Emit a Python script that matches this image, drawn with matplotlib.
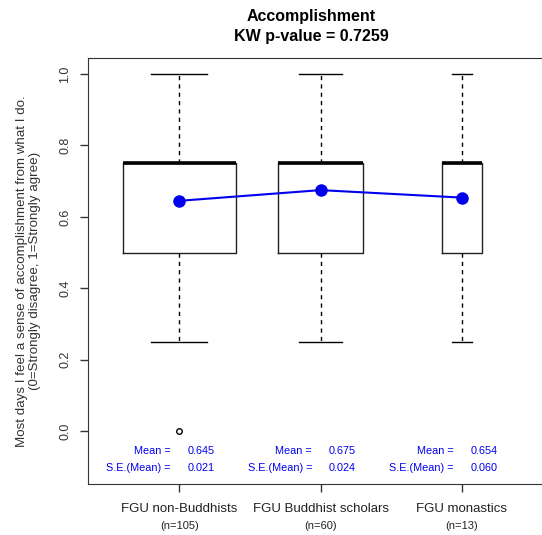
import matplotlib
matplotlib.use('Agg')
import matplotlib.pyplot as plt

plt.rcParams['font.family'] = ['Liberation Sans', 'DejaVu Sans']

groups = ['FGU non-Buddhists', 'FGU Buddhist scholars', 'FGU monastics']
n_obs = [105, 60, 13]
q1 = [0.5, 0.5, 0.5]
medians = [0.75, 0.75, 0.75]
q3 = [0.75, 0.75, 0.75]
whis_lo = [0.25, 0.25, 0.25]
whis_hi = [1.0, 1.0, 1.0]
outliers = [[0.0], [], []]
means = [0.645, 0.675, 0.654]
se_means = [0.021, 0.024, 0.060]
kw_p = 0.7259

fig = plt.figure(figsize=(5.42, 5.35), dpi=100)
ax = fig.add_axes([88 / 542, 51 / 535, 456 / 542, 426 / 535])

stats = []
for i in range(len(groups)):
    stats.append(dict(q1=q1[i], med=medians[i], q3=q3[i], whislo=whis_lo[i],
                      whishi=whis_hi[i], fliers=outliers[i]))

# largeur proportionnelle a sqrt(n), comme varwidth=TRUE
widths = [0.8 * (n / max(n_obs)) ** 0.5 for n in n_obs]
pos = [1, 2, 3]
ax.bxp(stats, positions=pos, widths=widths, showfliers=True,
       boxprops=dict(color='#222222', linewidth=1),
       medianprops=dict(color='black', linewidth=2.6, solid_capstyle='butt'),
       whiskerprops=dict(color='black', linewidth=1, linestyle=(0, (3, 3))),
       capprops=dict(color='black', linewidth=1),
       capwidths=[w * 0.5 for w in widths],
       flierprops=dict(marker='o', markersize=4, markerfacecolor='white',
                       markeredgecolor='black', markeredgewidth=1))

ax.plot(pos, means, color='#0000EE', linewidth=1.5, marker='o', markersize=8, zorder=5)

for i, p in enumerate(pos):
    ax.text(p - 0.06, -0.056, 'Mean =', color='#0000EE', fontsize=7.8, ha='right', va='center')
    ax.text(p + 0.06, -0.056, f'{means[i]:.3f}', color='#0000EE', fontsize=7.8, ha='left', va='center')
    ax.text(p - 0.06, -0.104, 'S.E.(Mean) =', color='#0000EE', fontsize=7.8, ha='right', va='center')
    ax.text(p + 0.06, -0.104, f'{se_means[i]:.3f}', color='#0000EE', fontsize=7.8, ha='left', va='center')

ax.set_xlim(0.355, 3.58)
ax.set_ylim(-0.148, 1.045)
ax.set_xticks(pos)
ax.set_xticklabels(groups, fontsize=9.5, color='#222222')
for i, p in enumerate(pos):
    ax.text(p, -0.148 - 0.118, f'(n={n_obs[i]})', fontsize=8, ha='center', va='center', color='#222222')
ax.set_yticks([0, 0.2, 0.4, 0.6, 0.8, 1.0])
ax.set_yticklabels(['0.0', '0.2', '0.4', '0.6', '0.8', '1.0'], rotation=90, va='center', fontsize=9, color='#333333')
ax.tick_params(axis='both', length=6, width=1, color='#333333')
ax.tick_params(axis='x', pad=8)
ax.tick_params(axis='y', pad=6)
for s in ['left', 'top', 'bottom']:
    ax.spines[s].set_color('#333333')
ax.spines['right'].set_visible(False)

ax.set_ylabel('Most days I feel a sense of accomplishment from what I do.\n(0=Strongly disagree, 1=Strongly agree)',
              fontsize=9.6, color='#333333', labelpad=13, linespacing=1.1)
fig.text(311 / 542, 1 - 16 / 535, 'Accomplishment', fontsize=11.5, fontweight='bold', ha='center', va='center')
fig.text(311 / 542, 1 - 37 / 535, f'KW p-value = {kw_p}', fontsize=11.5, fontweight='bold', ha='center', va='center')

fig.savefig('out.png', dpi=100)
